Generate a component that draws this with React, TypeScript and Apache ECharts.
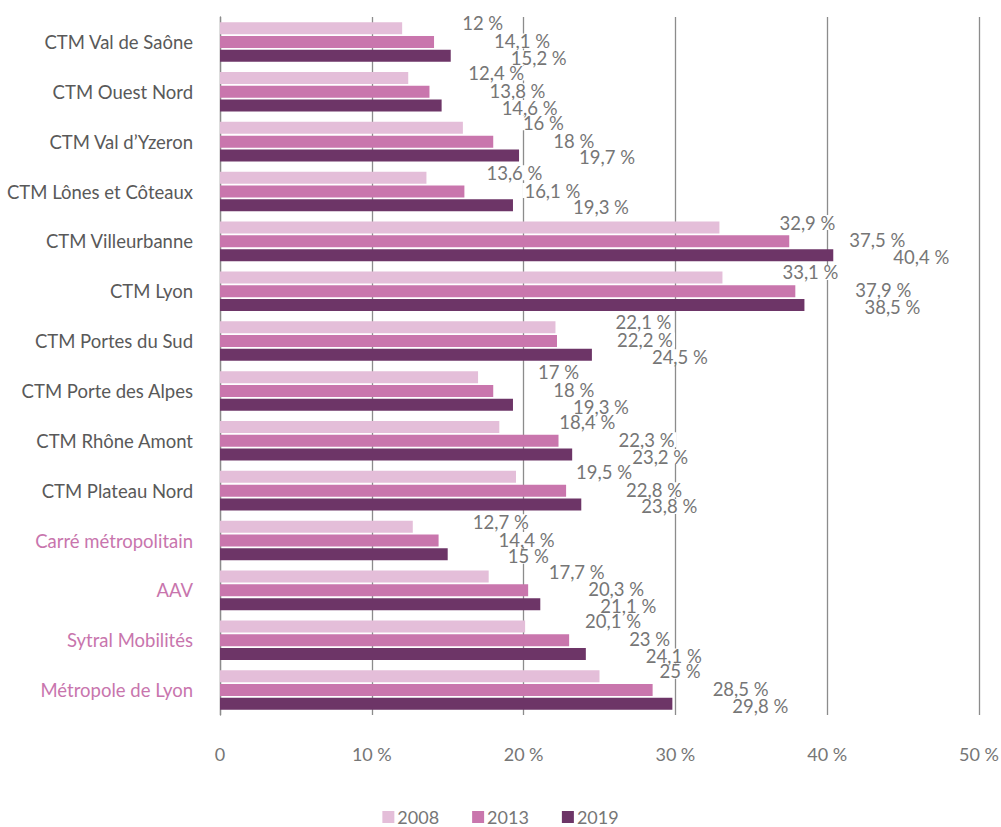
import React, { useEffect, useRef } from "react";
import * as echarts from "echarts";

const categories = [
  "CTM Val de Saône",
  "CTM Ouest Nord",
  "CTM Val d’Yzeron",
  "CTM Lônes et Côteaux",
  "CTM Villeurbanne",
  "CTM Lyon",
  "CTM Portes du Sud",
  "CTM Porte des Alpes",
  "CTM Rhône Amont",
  "CTM Plateau Nord",
  "Carré métropolitain",
  "AAV",
  "Sytral Mobilités",
  "Métropole de Lyon",
];
const highlighted = ["Carré métropolitain", "AAV", "Sytral Mobilités", "Métropole de Lyon"];

const values2008 = [12, 12.4, 16, 13.6, 32.9, 33.1, 22.1, 17, 18.4, 19.5, 12.7, 17.7, 20.1, 25];
const values2013 = [14.1, 13.8, 18, 16.1, 37.5, 37.9, 22.2, 18, 22.3, 22.8, 14.4, 20.3, 23, 28.5];
const values2019 = [15.2, 14.6, 19.7, 19.3, 40.4, 38.5, 24.5, 19.3, 23.2, 23.8, 15, 21.1, 24.1, 29.8];
const seriesNames = ["2008", "2013", "2019"];
const xTicks = [0, 10, 20, 30, 40, 50];

const colors = ["#e4bed9", "#c976ad", "#6d3567"];
const FONT = "Lato, 'Noto Sans', sans-serif";

const fmt = (v: number) => String(v).replace(".", ",") + " %";

export default function App() {
  const ref = useRef<HTMLDivElement>(null);
  useEffect(() => {
    if (!ref.current) return;
    const chart = echarts.init(ref.current, undefined, { renderer: "svg" });
    const allValues = [values2008, values2013, values2019];
    const offsetsY = [-5, -1, 2];
    chart.setOption({
      animation: false,
      backgroundColor: "#ffffff",
      textStyle: { fontFamily: FONT },
      grid: {
        left: 220,
        right: 22,
        top: 17,
        bottom: 112,
        containLabel: false,
        outerBoundsMode: "none",
      },
      legend: {
        data: seriesNames,
        left: "center",
        top: 808,
        padding: 0,
        itemWidth: 12,
        itemHeight: 12,
        itemGap: 33,
        icon: "rect",
        textStyle: { fontFamily: FONT, fontSize: 18, lineHeight: 16, color: "#767676", padding: [0, 0, 0, -2] },
      },
      xAxis: {
        type: "value",
        min: xTicks[0],
        max: xTicks[xTicks.length - 1],
        interval: 10,
        axisLine: { show: false },
        axisTick: { show: false },
        splitLine: { show: true, lineStyle: { color: "#8c8c8c", width: 1.3 } },
        axisLabel: {
          margin: 30,
          fontFamily: FONT,
          fontSize: 18,
          color: "#767676",
          formatter: (v: number) => (v === 0 ? "0" : v + "\u202F%"),
        },
      },
      yAxis: {
        type: "category",
        inverse: true,
        data: categories,
        axisLine: { show: true, lineStyle: { color: "#8c8c8c", width: 1.3 } },
        axisTick: { show: false },
        axisLabel: {
          margin: 27,
          fontFamily: FONT,
          fontSize: 18.5,
          color: (val: string) => (highlighted.includes(val) ? "#c875ad" : "#595959"),
        },
      },
      series: seriesNames.map((name, i) => ({
        name,
        type: "bar",
        data: allValues[i],
        barWidth: 12,
        barGap: "15%",
        itemStyle: { color: colors[i] },
        label: {
          show: true,
          position: "right",
          distance: 0,
          offset: [58, offsetsY[i]],
          backgroundColor: "#ffffff",
          padding: [0, 2],
          fontFamily: FONT,
          fontSize: 18.5,
          lineHeight: 15,
          color: "#767676",
          formatter: (p: any) => fmt(p.value),
        },
      })),
    });
    return () => chart.dispose();
  }, []);
  return (
    <div
      ref={ref}
      style={{ position: "absolute", left: 0, top: 0, width: 1001, height: 827 }}
    />
  );
}
